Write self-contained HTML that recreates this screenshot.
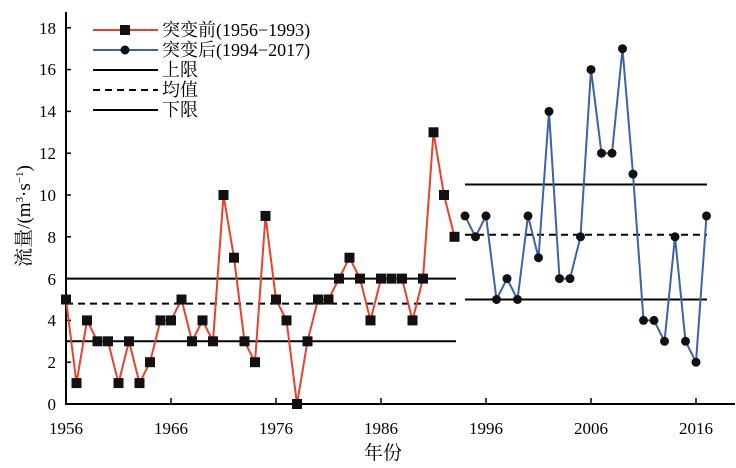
<!DOCTYPE html>
<html><head><meta charset="utf-8"><style>
html,body{margin:0;padding:0;background:#fff;}
svg{display:block;font-family:"Liberation Serif","Noto Serif CJK SC",serif;}
</style></head><body>
<svg id="c" width="736" height="468" viewBox="0 0 736 468" xmlns="http://www.w3.org/2000/svg">
<g id="lines"></g>
<g stroke="#000" stroke-width="2" fill="none">
<line x1="66" y1="12" x2="66" y2="405"/>
<line x1="65" y1="404" x2="735" y2="404"/>
</g>
<g id="ticks" stroke="#000" stroke-width="1.5"></g>
<g font-size="17" text-anchor="end" fill="#000">
<text x="56" y="410">0</text><text x="56" y="368">2</text><text x="56" y="326">4</text>
<text x="56" y="285">6</text><text x="56" y="243">8</text><text x="56" y="201">10</text>
<text x="56" y="159">12</text><text x="56" y="117">14</text><text x="56" y="75">16</text>
<text x="56" y="34">18</text>
</g>
<g font-size="17" text-anchor="middle" fill="#000">
<text x="66" y="434">1956</text><text x="171" y="434">1966</text><text x="276" y="434">1976</text>
<text x="381" y="434">1986</text><text x="486" y="434">1996</text><text x="591" y="434">2006</text>
<text x="696" y="434">2016</text>
<text x="383" y="459" font-size="19">年份</text>
</g>
<text transform="translate(30,216) rotate(-90)" font-size="19" text-anchor="middle">流量/(m<tspan font-size="11" dy="-7">3</tspan><tspan dy="7">·s</tspan><tspan font-size="11" dy="-7">−1</tspan><tspan dy="7">)</tspan></text>
<g font-size="18" fill="#000">
<line x1="93" y1="30" x2="158" y2="30" stroke="#e8412c" stroke-width="2"/><rect x="120" y="25" width="10" height="10" fill="#111"/>
<text x="162" y="36">突变前(1956−1993)</text>
<line x1="93" y1="50" x2="158" y2="50" stroke="#3a63a8" stroke-width="2"/><circle cx="125" cy="50" r="4.5" fill="#111"/>
<text x="162" y="56">突变后(1994−2017)</text>
<line x1="93" y1="70" x2="158" y2="70" stroke="#000" stroke-width="2"/>
<text x="162" y="76">上限</text>
<line x1="93" y1="90" x2="158" y2="90" stroke="#000" stroke-width="2" stroke-dasharray="7,5"/>
<text x="162" y="96">均值</text>
<line x1="93" y1="110" x2="158" y2="110" stroke="#000" stroke-width="2"/>
<text x="162" y="116">下限</text>
</g>
<g id="series"></g>
</svg>
<script>
var NS="http://www.w3.org/2000/svg";
function X(y){return 66+(y-1956)*10.5;}
function Y(v){return 404-v*20.9;}
function el(p,t,a){var e=document.createElementNS(NS,t);for(var k in a)e.setAttribute(k,a[k]);p.appendChild(e);return e;}
var L=document.getElementById('lines'),T=document.getElementById('ticks'),S=document.getElementById('series');
for(var i=0;i<=9;i++){var y=Y(i*2);el(T,'line',{x1:66,y1:y,x2:71,y2:y});}
for(var i=0;i<=6;i++){var x=X(1956+i*10);el(T,'line',{x1:x,y1:404,x2:x,y2:398});}
function h(x1,x2,v,d){var a={x1:x1,x2:x2,y1:Y(v),y2:Y(v),stroke:'#000','stroke-width':2};if(d)a['stroke-dasharray']='7,5';el(L,'line',a);}
h(66,456,6);h(66,456,4.8,1);h(66,456,3);
h(465,707,10.5);h(465,707,8.1,1);h(465,707,5);
var pre=[5,1,4,3,3,1,3,1,2,4,4,5,3,4,3,10,7,3,2,9,5,4,0,3,5,5,6,7,6,4,6,6,6,4,6,13,10,8];
var post=[9,8,9,5,6,5,9,7,14,6,6,8,16,12,12,17,11,4,4,3,8,3,2,9];
var p=pre.map(function(v,i){return X(1956+i)+','+Y(v);}).join(' ');
el(S,'polyline',{points:p,fill:'none',stroke:'#e8412c','stroke-width':2});
var q=post.map(function(v,i){return X(1994+i)+','+Y(v);}).join(' ');
el(S,'polyline',{points:q,fill:'none',stroke:'#3a63a8','stroke-width':2});
pre.forEach(function(v,i){el(S,'rect',{x:X(1956+i)-5,y:Y(v)-5,width:10,height:10,fill:'#111'});});
post.forEach(function(v,i){el(S,'circle',{cx:X(1994+i),cy:Y(v),r:4.5,fill:'#111'});});
</script>
</body></html>
